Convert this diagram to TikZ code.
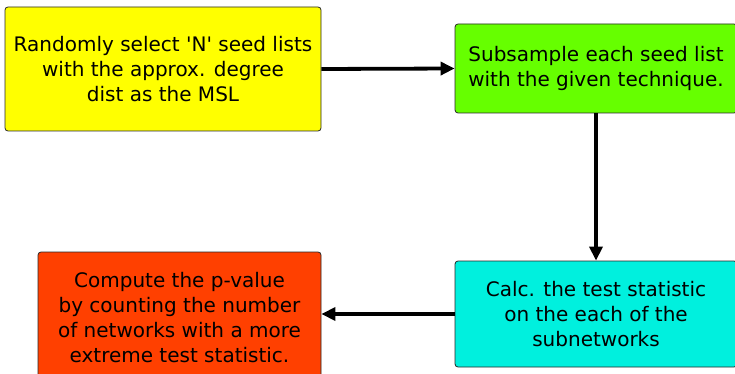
\documentclass[tikz,border=0pt]{standalone}
\usepackage{fontspec}
\setmainfont{DejaVu Sans}
\usetikzlibrary{arrows.meta}
\definecolor{cyellow}{RGB}{255,255,0}
\definecolor{cgreen}{RGB}{102,255,0}
\definecolor{ccyan}{RGB}{0,240,222}
\definecolor{cred}{RGB}{255,64,0}
\definecolor{cborder}{RGB}{40,40,40}
\tikzset{
  box/.style={draw=cborder, line width=0.8pt, rounded corners=3pt, align=center,
    inner sep=0pt, font=\fontsize{20}{25}\selectfont},
  conn/.style={line width=3.8pt, -{Triangle[length=14pt,width=13pt]}},
}
\begin{document}
\begin{tikzpicture}[x=1pt,y=-1pt]
\useasboundingbox (0,0) rectangle (735,374);
\node[box, fill=cyellow, minimum width=316pt, minimum height=124pt] (sel) at (163,69)
  {Randomly select \textquotesingle N\textquotesingle\ seed lists\\with the approx. degree\\dist as the MSL};
\node[box, fill=cgreen, minimum width=282pt, minimum height=89pt] (sub) at (596,68.5)
  {Subsample each seed list\\with the given technique.};
\node[box, fill=ccyan, minimum width=282pt, minimum height=106pt] (calc) at (596,314)
  {Calc. the test statistic\\on the each of the\\subnetworks};
\node[box, fill=cred, minimum width=283pt, minimum height=132pt] (pval) at (179.5,318)
  {Compute the p-value\\by counting the number\\of networks with a more\\extreme test statistic.};
\draw[conn] (sel.east) -- (sub.west);
\draw[conn] (sub.south) -- (calc.north);
\draw[conn] (calc.west) -- (calc.west -| pval.east);
\end{tikzpicture}
\end{document}
